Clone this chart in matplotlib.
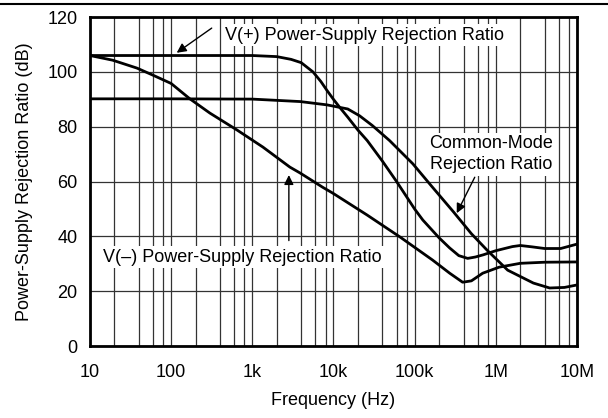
import matplotlib
matplotlib.use('Agg')
import matplotlib.pyplot as plt
from matplotlib.lines import Line2D
from matplotlib.ticker import LogLocator, FixedLocator, NullFormatter

plt.rcParams['font.family'] = ['Liberation Sans', 'DejaVu Sans']

# values (frequency in Hz, level in dB)
psrr_pos_f = [10, 100, 1000, 2000, 3000, 4000, 5600, 7000, 8300, 10e3, 12e3, 15e3,
              20e3, 26e3, 40e3, 60e3, 100e3, 126e3, 200e3, 270e3, 350e3, 450e3,
              560e3, 700e3, 1e6, 1.6e6, 2e6, 2.8e6, 4e6, 6.3e6, 10e6]
psrr_pos_db = [106, 106, 106, 105.6, 104.6, 103.4, 100, 96.5, 93.3, 90, 87, 83.5,
               78.8, 75, 67.5, 60, 50, 46, 39.5, 35.8, 33, 32, 32.5, 33.3, 34.8,
               36.3, 36.7, 36.2, 35.6, 35.6, 37.2]

psrr_neg_f = [10, 19, 38, 60, 100, 170, 300, 650, 1350, 2900, 3900, 7400, 9800,
              26e3, 66e3, 166e3, 270e3, 390e3, 500e3, 690e3, 1.1e6, 2e6, 4e6, 10e6]
psrr_neg_db = [106, 104.3, 101.4, 98.8, 95.8, 90.2, 85, 78.8, 72.6, 65.3, 63.1, 57.9,
               55.8, 47.8, 39.8, 31.4, 26.6, 23.3, 23.8, 26.6, 28.8, 30.2, 30.6, 30.7]

cmrr_f = [10, 100, 1000, 3900, 8300, 15e3, 21e3, 30e3, 49e3, 95e3, 160e3, 300e3,
          500e3, 780e3, 1.4e6, 2.9e6, 4.6e6, 7e6, 10e6]
cmrr_db = [90.2, 90.2, 90.1, 89.2, 88, 86.5, 84, 80.5, 75, 66.5, 58.5, 49, 41, 35,
           27.7, 23, 21.2, 21.4, 22.3]

x_ticks = [10, 100, 1e3, 1e4, 1e5, 1e6, 1e7]
x_tick_labels = ['10', '100', '1k', '10k', '100k', '1M', '10M']
y_ticks = [0, 20, 40, 60, 80, 100, 120]

fs = 13

fig = plt.figure(figsize=(6.08, 4.18), dpi=100)
ax = fig.add_axes([0.148, 0.172, 0.801, 0.787])

ax.plot(psrr_pos_f, psrr_pos_db, color='black', lw=2, zorder=3)
ax.plot(psrr_neg_f, psrr_neg_db, color='black', lw=2, zorder=3)
ax.plot(cmrr_f, cmrr_db, color='black', lw=2, zorder=3)

ax.set_xscale('log')
ax.set_xlim(10, 1e7)
ax.set_ylim(0, 120)
ax.xaxis.set_major_locator(FixedLocator(x_ticks))
ax.set_xticks(x_ticks)
ax.set_xticklabels(x_tick_labels)
ax.xaxis.set_minor_locator(LogLocator(base=10, subs=[2, 4, 6, 8]))
ax.xaxis.set_minor_formatter(NullFormatter())
ax.set_yticks(y_ticks)
ax.tick_params(axis='both', which='both', length=0, labelsize=fs, colors='black')
ax.tick_params(axis='x', pad=13)
ax.tick_params(axis='y', pad=9)
ax.grid(True, which='both', axis='x', color='#333333', lw=0.9)
ax.grid(True, which='major', axis='y', color='#333333', lw=0.9)
ax.set_axisbelow(True)
for s in ax.spines.values():
    s.set_linewidth(2)

ax.set_xlabel('Frequency (Hz)', fontsize=fs, labelpad=8)
ax.set_ylabel('Power-Supply Rejection Ratio (dB)', fontsize=fs, labelpad=10)

box = dict(facecolor='white', edgecolor='none', pad=2)
arrow = dict(arrowstyle='-|>', color='black', lw=1, mutation_scale=14, shrinkA=0, shrinkB=0)

ax.text(457, 113.4, 'V(+) Power-Supply Rejection Ratio', fontsize=fs, ha='left',
        va='center', bbox=box, zorder=4)
ax.annotate('', xy=(117, 107), xytext=(316, 116), arrowprops=arrow, zorder=4)

ax.text(14.4, 32.5, 'V(\u2013) Power-Supply Rejection Ratio', fontsize=fs, ha='left',
        va='center', bbox=box, zorder=4)
ax.annotate('', xy=(2820, 62.4), xytext=(2820, 38.5), arrowprops=arrow, zorder=4)

ax.text(870e3, 70, 'Common-Mode\nRejection Ratio', fontsize=fs, ha='center',
        va='center', linespacing=1.3, bbox=box, zorder=4)
ax.annotate('', xy=(330e3, 48.5), xytext=(550e3, 61.6), arrowprops=arrow, zorder=4)

fig.add_artist(Line2D([0, 1], [1 - 4 / 418, 1 - 4 / 418], transform=fig.transFigure,
                      color='black', lw=1.5))

fig.savefig('out.png', dpi=100)
